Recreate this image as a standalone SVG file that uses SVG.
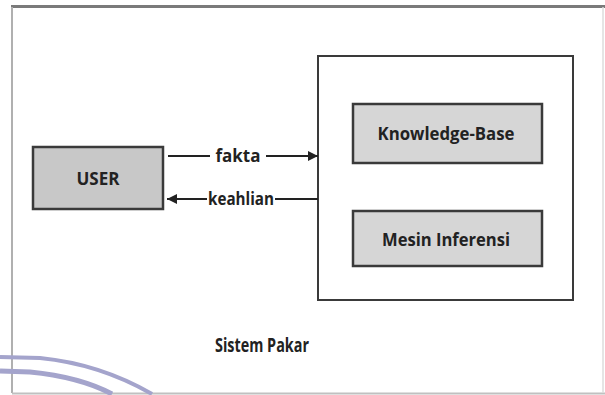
<svg xmlns="http://www.w3.org/2000/svg" width="605" height="395" viewBox="0 0 605 395">
<style>
.box{fill:#c8c8c8;stroke:#3a3a3a;stroke-width:2.5}
.lbl{font-family:"Open Sans","Liberation Sans",sans-serif;font-weight:700;fill:#222;text-anchor:middle}
.con{stroke:#222;stroke-width:2;fill:none}
.sw{fill:none;stroke:#a4a4cc;stroke-linecap:butt}
</style>
<defs>
<marker id="ah" viewBox="0 0 10 10" refX="10" refY="5" markerWidth="10" markerHeight="10" markerUnits="userSpaceOnUse" orient="auto">
<path d="M0,0 L10,5 L0,10 z" fill="#222"/>
</marker>
</defs>
<rect width="605" height="395" fill="#fff"/>
<g id="frame">
<line x1="11" y1="6.5" x2="605" y2="6.5" stroke="#7a7a7a" stroke-width="3"/>
<line x1="12" y1="7" x2="12" y2="393" stroke="#b0b0b0" stroke-width="2"/>
<line x1="12" y1="393.5" x2="605" y2="393.5" stroke="#c0c0c0" stroke-width="2"/>
<line x1="603" y1="7" x2="603" y2="393" stroke="#dcdcdc" stroke-width="1.5"/>
</g>
<g id="swoosh">
<path class="sw" d="M0,357 L40,358 Q100,364 152,394" stroke-width="4"/>
<path class="sw" d="M0,371 L30,372 Q80,377 112,394" stroke-width="5"/>
</g>
<g id="sistem-pakar">
<rect x="318" y="56" width="255" height="244" fill="#fff" stroke="#3a3a3a" stroke-width="2"/>
<text class="lbl" x="262" y="352" font-size="19" textLength="94" lengthAdjust="spacingAndGlyphs">Sistem Pakar</text>
</g>
<g id="user">
<rect class="box" x="33" y="147" width="130" height="62"/>
<text class="lbl" x="98" y="185" font-size="18" textLength="43" lengthAdjust="spacingAndGlyphs">USER</text>
</g>
<g id="knowledge-base">
<rect class="box" x="353" y="104" width="189" height="59" style="fill:#d6d6d6"/>
<text class="lbl" x="446" y="140" font-size="18" textLength="137" lengthAdjust="spacingAndGlyphs">Knowledge-Base</text>
</g>
<g id="mesin-inferensi">
<rect class="box" x="353" y="211" width="189" height="55" style="fill:#d6d6d6"/>
<text class="lbl" x="446" y="246" font-size="18" textLength="128" lengthAdjust="spacingAndGlyphs">Mesin Inferensi</text>
</g>
<g id="connectors">
<line class="con" x1="168" y1="156" x2="210" y2="156"/>
<line class="con" x1="266" y1="156" x2="318" y2="156" marker-end="url(#ah)"/>
<text class="lbl" x="238" y="162" font-size="18" font-weight="600" textLength="45" lengthAdjust="spacingAndGlyphs">fakta</text>
<line class="con" x1="318" y1="199" x2="275" y2="199"/>
<line class="con" x1="207" y1="199" x2="167" y2="199" marker-end="url(#ah)"/>
<text class="lbl" x="241" y="205" font-size="18" font-weight="600" textLength="66" lengthAdjust="spacingAndGlyphs">keahlian</text>
</g>
</svg>
